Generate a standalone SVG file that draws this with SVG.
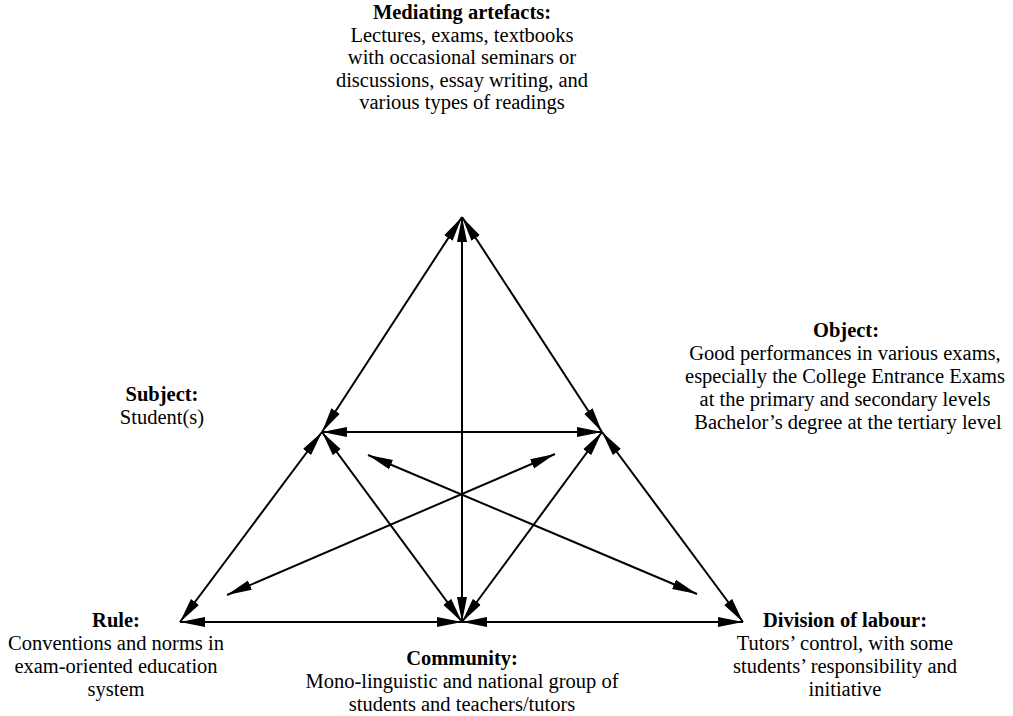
<svg xmlns="http://www.w3.org/2000/svg" width="1013" height="716" viewBox="0 0 1013 716">
<style>
text{font-family:"Liberation Serif","Times New Roman",serif;font-size:20.5px;fill:#000;text-anchor:middle}
.b{font-weight:bold}
.c line{stroke:#000;stroke-width:2;marker-start:url(#ah);marker-end:url(#ah)}
</style>
<defs>
<marker id="ah" markerUnits="userSpaceOnUse" markerWidth="26" markerHeight="12" refX="25" refY="5" orient="auto-start-reverse" viewBox="0 0 26 10">
<path d="M0,0 L25,5 L0,10 z" fill="#000"/>
</marker>
</defs>
<rect width="1013" height="716" fill="#fff"/>
<g id="connectors" class="c">
<line x1="462" y1="217" x2="322" y2="432"/>
<line x1="462" y1="217" x2="602" y2="432"/>
<line x1="462" y1="217" x2="462" y2="622"/>
<line x1="322" y1="432" x2="602" y2="432"/>
<line x1="322" y1="432" x2="180" y2="622"/>
<line x1="602" y1="432" x2="743" y2="622"/>
<line x1="322" y1="432" x2="462" y2="622"/>
<line x1="602" y1="432" x2="462" y2="622"/>
<line x1="180" y1="622" x2="462" y2="622"/>
<line x1="462" y1="622" x2="743" y2="622"/>
<line x1="227" y1="595" x2="555" y2="454"/>
<line x1="368" y1="455" x2="697" y2="594"/>
</g>
<g id="mediating">
<text class="b" x="462" y="19">Mediating artefacts:</text>
<text x="462" y="41.5">Lectures, exams, textbooks</text>
<text x="462" y="64">with occasional seminars or</text>
<text x="462" y="86.5">discussions, essay writing, and</text>
<text x="462" y="109">various types of readings</text>
</g>
<g id="subject">
<text class="b" x="162" y="401">Subject:</text>
<text x="162" y="424">Student(s)</text>
</g>
<g id="object">
<text class="b" x="846" y="337">Object:</text>
<text x="845" y="360">Good performances in various exams,</text>
<text x="845" y="383">especially the College Entrance Exams</text>
<text x="845" y="406">at the primary and secondary levels</text>
<text x="848" y="429">Bachelor’s degree at the tertiary level</text>
</g>
<g id="rule">
<text class="b" x="116" y="627">Rule:</text>
<text x="116" y="650">Conventions and norms in</text>
<text x="116" y="673">exam-oriented education</text>
<text x="116" y="696">system</text>
</g>
<g id="community">
<text class="b" x="462" y="665">Community:</text>
<text x="462" y="688">Mono-linguistic and national group of</text>
<text x="462" y="711">students and teachers/tutors</text>
</g>
<g id="division">
<text class="b" x="845" y="627">Division of labour:</text>
<text x="845" y="650">Tutors’ control, with some</text>
<text x="845" y="673">students’ responsibility and</text>
<text x="845" y="696">initiative</text>
</g>
</svg>
